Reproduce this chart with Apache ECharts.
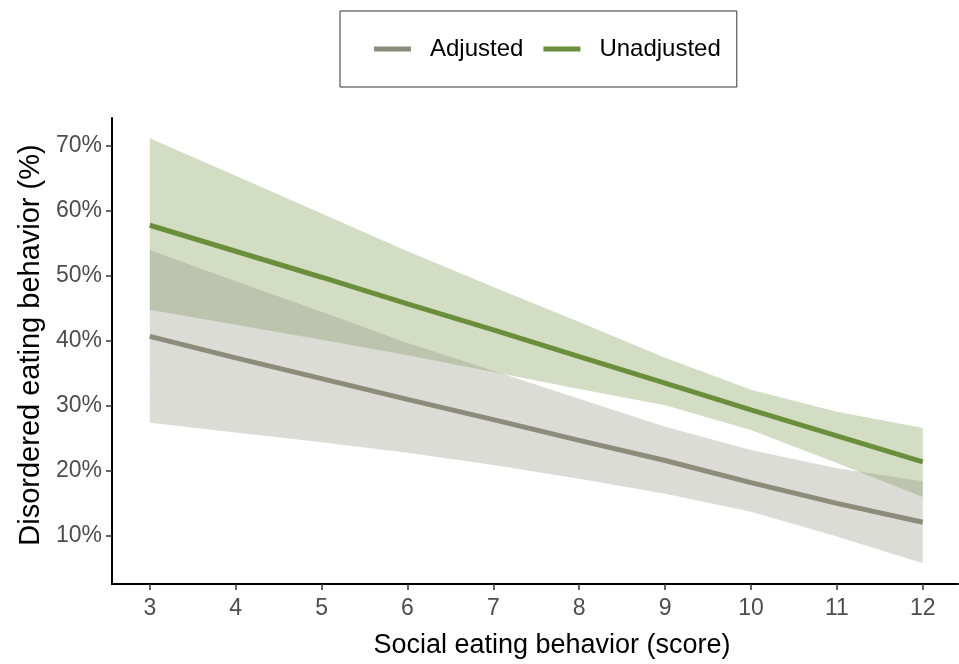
<!DOCTYPE html>
<html><head><meta charset="utf-8">
<script src="https://cdn.jsdelivr.net/npm/echarts@6/dist/echarts.min.js"></script>
<style>html,body{margin:0;padding:0;background:#fff}#c{width:959px;height:664px}</style>
</head><body><div id="c"></div>
<script>
// Social eating behavior score
const scores = [3, 4, 5, 6, 7, 8, 9, 10, 11, 12];
// Predicted % disordered eating behavior
const adjustedFit   = [40.7, 37.4, 34.2, 31.0, 27.9, 24.7, 21.6, 18.2, 15.0, 12.1];
const adjustedLow   = [27.4, 25.9, 24.4, 22.8, 20.9, 18.8, 16.5, 13.7, 9.9, 5.8];
const adjustedHigh  = [54.0, 49.2, 44.5, 39.7, 35.4, 31.1, 26.8, 23.2, 20.4, 18.4];
const unadjustedFit  = [57.8, 53.8, 49.8, 45.7, 41.7, 37.6, 33.5, 29.4, 25.4, 21.4];
const unadjustedLow  = [44.8, 42.5, 40.2, 37.8, 35.2, 32.6, 30.1, 26.3, 21.2, 16.0];
const unadjustedHigh = [71.2, 65.4, 59.6, 53.8, 48.3, 42.9, 37.4, 32.5, 29.1, 26.6];
// Tick labels
const xTickValues = [3, 4, 5, 6, 7, 8, 9, 10, 11, 12];
const yTickValues = [10, 20, 30, 40, 50, 60, 70];

const colAdj = '#8B8C7A';
const colUnadj = '#6B8E3A';
const FONT = 'Liberation Sans';

const pairs = (ys) => scores.map((x, i) => [x, ys[i]]);
const bandRows = (lo, hi) => scores.map((x, i) => [x, lo[i], hi[i]]);

// Ribbon drawn as one polygon through the axes' own coordinate mapping
function bandSeries(name, lo, hi, color) {
  return {
    name, type: 'custom', silent: true, z: 1,
    data: bandRows(lo, hi),
    encode: { x: 0, y: [1, 2] },
    renderItem: function (params, api) {
      if (params.dataIndex !== 0) return null;
      const upper = scores.map((x, i) => api.coord([x, hi[i]]));
      const lower = scores.map((x, i) => api.coord([x, lo[i]])).reverse();
      return {
        type: 'polygon',
        shape: { points: upper.concat(lower) },
        style: { fill: color, opacity: 0.3, stroke: null }
      };
    }
  };
}

const chart = echarts.init(document.getElementById('c'), null, { renderer: 'canvas' });
chart.setOption({
  animation: false,
  backgroundColor: '#ffffff',
  legend: {
    data: [
      { name: 'Adjusted', icon: 'rect', itemStyle: { color: colAdj } },
      { name: 'Unadjusted', icon: 'rect', itemStyle: { color: colUnadj } }
    ],
    left: 340, top: 11,
    padding: [26, 16, 26, 34],
    borderColor: '#333', borderWidth: 1,
    itemWidth: 37, itemHeight: 5, itemGap: 20,
    textStyle: { fontSize: 24, color: '#000', fontFamily: FONT, padding: [0, 0, 0, 14] }
  },
  grid: { left: 112, right: 1, top: 118, bottom: 79 },
  xAxis: {
    type: 'value', min: 2.56, max: 12.41,
    name: 'Social eating behavior (score)', nameLocation: 'middle', nameGap: 48,
    nameTextStyle: { fontSize: 27, color: '#000', fontFamily: FONT, padding: [0, 0, 0, 34] },
    axisLine: { show: true, onZero: false, lineStyle: { color: '#000', width: 2 } },
    axisTick: { show: true, length: 6, lineStyle: { color: '#333', width: 1.5 }, customValues: xTickValues },
    axisLabel: { fontSize: 23, color: '#4D4D4D', fontFamily: FONT, margin: 13, customValues: xTickValues },
    splitLine: { show: false }
  },
  yAxis: {
    type: 'value', min: 2.6, max: 74.3,
    name: 'Disordered eating behavior (%)', nameLocation: 'middle', nameGap: 64,
    nameTextStyle: { fontSize: 29, color: '#000', fontFamily: FONT, padding: [0, 0, 0, 12] },
    axisLine: { show: true, onZero: false, lineStyle: { color: '#000', width: 2 } },
    axisTick: { show: true, length: 6, lineStyle: { color: '#333', width: 1.5 }, customValues: yTickValues },
    axisLabel: { fontSize: 23, color: '#4D4D4D', fontFamily: FONT, margin: 10,
      customValues: yTickValues, formatter: (v) => v + '%' },
    splitLine: { show: false }
  },
  series: [
    bandSeries('Unadjusted band', unadjustedLow, unadjustedHigh, colUnadj),
    bandSeries('Adjusted band', adjustedLow, adjustedHigh, colAdj),
    { name: 'Adjusted', type: 'line', data: pairs(adjustedFit), symbol: 'none',
      lineStyle: { color: colAdj, width: 5 }, itemStyle: { color: colAdj }, z: 3 },
    { name: 'Unadjusted', type: 'line', data: pairs(unadjustedFit), symbol: 'none',
      lineStyle: { color: colUnadj, width: 5 }, itemStyle: { color: colUnadj }, z: 3 }
  ]
});
</script></body></html>
